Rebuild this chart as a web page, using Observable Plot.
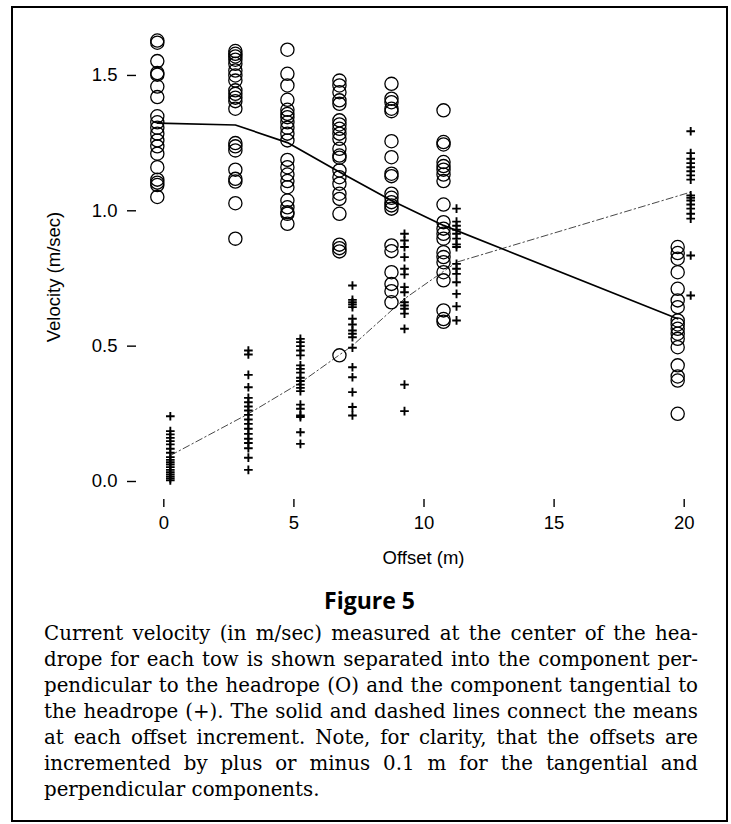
<!DOCTYPE html>
<html>
<head>
<meta charset="utf-8">
<script src="https://cdn.jsdelivr.net/npm/d3@7"></script>
<script src="https://cdn.jsdelivr.net/npm/@observablehq/plot@0.6"></script>
<style>
  html, body { margin: 0; padding: 0; background: #fff; }
  body { position: relative; width: 731px; height: 824px; overflow: hidden; }
  #frame { position: absolute; left: 11px; top: 6px; width: 717px; height: 816px; border: 2px solid #000; box-sizing: border-box; }
  #chart { position: absolute; left: 0; top: 0; }
  #title { position: absolute; left: 11px; width: 717px; top: 584px; text-align: center;
           font-family: "Open Sans", sans-serif; font-weight: 700; font-size: 23px; line-height: 32px; }
  #caption { position: absolute; left: 44px; width: 654px; top: 621px;
             font-family: "DejaVu Serif", serif; font-size: 19.8px; line-height: 26px; color: #000; }
  #caption .j { display: block; text-align: justify; text-align-last: justify; }
  #caption .l { display: block; text-align: left; }
</style>
</head>
<body>
<div id="frame"></div>
<div id="chart"></div>
<div id="title">Figure 5</div>
<div id="caption">
  <span class="j">Current velocity (in m/sec) measured at the center of the hea-</span>
  <span class="j">drope for each tow is shown separated into the component per-</span>
  <span class="j">pendicular to the headrope (O) and the component tangential to</span>
  <span class="j">the headrope (+). The solid and dashed lines connect the means</span>
  <span class="j">at each offset increment. Note, for clarity, that the offsets are</span>
  <span class="j">incremented by plus or minus 0.1 m for the tangential and</span>
  <span class="l">perpendicular components.</span>
</div>
<script>
// Offsets (m)
const offsets = [0, 3, 5, 7, 9, 11, 20];

// Perpendicular component (O), per offset
const perp0  = [1.629, 1.621, 1.553, 1.509, 1.503, 1.459, 1.420, 1.349, 1.327, 1.307, 1.285, 1.260, 1.238, 1.211, 1.161, 1.115, 1.104, 1.095, 1.051];
const perp3  = [1.590, 1.580, 1.570, 1.558, 1.543, 1.518, 1.500, 1.481, 1.445, 1.432, 1.418, 1.405, 1.377, 1.250, 1.238, 1.223, 1.152, 1.118, 1.108, 1.028, 0.897];
const perp5  = [1.595, 1.506, 1.463, 1.410, 1.373, 1.358, 1.346, 1.327, 1.307, 1.285, 1.260, 1.188, 1.161, 1.134, 1.110, 1.087, 1.038, 1.013, 0.995, 0.989, 0.952];
const perp7  = [1.481, 1.463, 1.438, 1.408, 1.395, 1.334, 1.319, 1.303, 1.285, 1.266, 1.229, 1.204, 1.196, 1.149, 1.124, 1.100, 1.063, 1.044, 0.989, 0.875, 0.862, 0.850, 0.466];
const perp9  = [1.469, 1.414, 1.401, 1.377, 1.368, 1.257, 1.198, 1.137, 1.128, 1.063, 1.048, 1.032, 1.020, 1.008, 0.872, 0.851, 0.773, 0.730, 0.703, 0.662];
const perp11 = [1.371, 1.254, 1.245, 1.180, 1.165, 1.152, 1.134, 1.110, 1.023, 0.958, 0.934, 0.915, 0.897, 0.847, 0.829, 0.810, 0.773, 0.743, 0.632, 0.600, 0.590];
const perp20 = [0.866, 0.844, 0.823, 0.773, 0.712, 0.669, 0.644, 0.595, 0.580, 0.564, 0.546, 0.527, 0.496, 0.429, 0.388, 0.373, 0.250];

// Tangential component (+), per offset
const tang0  = [0.241, 0.186, 0.174, 0.161, 0.149, 0.137, 0.121, 0.106, 0.090, 0.080, 0.071, 0.063, 0.053, 0.043, 0.034, 0.026, 0.018, 0.011, 0.004];
const tang3  = [0.484, 0.469, 0.394, 0.348, 0.309, 0.293, 0.277, 0.262, 0.246, 0.229, 0.213, 0.195, 0.176, 0.158, 0.142, 0.123, 0.088, 0.043];
const tang5  = [0.527, 0.515, 0.500, 0.484, 0.466, 0.429, 0.416, 0.402, 0.383, 0.371, 0.358, 0.346, 0.334, 0.284, 0.269, 0.244, 0.238, 0.182, 0.139];
const tang7  = [0.724, 0.671, 0.662, 0.654, 0.644, 0.601, 0.580, 0.558, 0.546, 0.533, 0.494, 0.422, 0.385, 0.330, 0.275, 0.244];
const tang9  = [0.915, 0.890, 0.866, 0.829, 0.786, 0.765, 0.718, 0.699, 0.662, 0.650, 0.638, 0.620, 0.564, 0.358, 0.260];
const tang11 = [1.008, 0.960, 0.945, 0.930, 0.915, 0.897, 0.876, 0.866, 0.804, 0.786, 0.767, 0.736, 0.693, 0.647, 0.595];
const tang20 = [1.294, 1.213, 1.192, 1.176, 1.161, 1.146, 1.131, 1.115, 1.057, 1.048, 1.038, 1.023, 1.008, 0.989, 0.971, 0.835, 0.687];

// Means at each offset (lines)
const perpMeans = [1.324, 1.317, 1.252, 1.143, 1.038, 0.946, 0.601];
const tangMeans = [0.096, 0.250, 0.365, 0.502, 0.675, 0.810, 1.069];

// Axis ticks
const xTicks = [0, 5, 10, 15, 20];
const yTicks = [0.0, 0.5, 1.0, 1.5];

// Display shift of the two components around each offset
const shift = 0.25;

const perpGroups = [perp0, perp3, perp5, perp7, perp9, perp11, perp20];
const tangGroups = [tang0, tang3, tang5, tang7, tang9, tang11, tang20];
const perpendicular = offsets.flatMap((o, i) => perpGroups[i].map(v => ({offset: o - shift, velocity: v})));
const tangential = offsets.flatMap((o, i) => tangGroups[i].map(v => ({offset: o + shift, velocity: v})));
const perpLine = offsets.map((o, i) => ({offset: o - shift, velocity: perpMeans[i]}));
const tangLine = offsets.map((o, i) => ({offset: o + shift, velocity: tangMeans[i]}));

const FS = 18.5;
const chart = Plot.plot({
  width: 731,
  height: 570,
  marginLeft: 136,
  marginRight: 33,
  marginTop: 30,
  marginBottom: 71,
  style: {fontFamily: "'Liberation Sans', Arial, sans-serif", fontSize: FS + "px", color: "#000", background: "transparent"},
  x: {domain: [-1.05, 20.55]},
  y: {domain: [-0.0665, 1.666]},
  marks: [
    Plot.axisX({ticks: xTicks, tickSize: 8, tickPadding: 8, line: true, label: null, strokeWidth: 1.4, fontSize: FS}),
    Plot.axisY({ticks: yTicks, tickSize: 9, tickPadding: 10, line: true, label: null, tickFormat: d3.format(".1f"), strokeWidth: 1.4, fontSize: FS}),
    Plot.text(["Velocity (m/sec)"], {frameAnchor: "left", textAnchor: "middle", lineAnchor: "middle", rotate: -90, dx: -82, dy: 12, fontSize: FS}),
    Plot.text(["Offset (m)"], {frameAnchor: "bottom", textAnchor: "middle", lineAnchor: "middle", dx: 6, dy: 59, fontSize: FS}),
    Plot.line(tangLine, {x: "offset", y: "velocity", stroke: "#333", strokeWidth: 0.9, strokeDasharray: "7,3,1.5,3"}),
    Plot.line(perpLine, {x: "offset", y: "velocity", stroke: "#000", strokeWidth: 1.7}),
    Plot.dot(perpendicular, {x: "offset", y: "velocity", r: 6.6, stroke: "#000", strokeWidth: 1.3, fill: "none"}),
    Plot.dot(tangential, {x: "offset", y: "velocity", symbol: "plus", r: 2.9, stroke: "#000", strokeWidth: 1.9, fill: "none"})
  ]
});
document.getElementById("chart").appendChild(chart);
</script>
</body>
</html>
